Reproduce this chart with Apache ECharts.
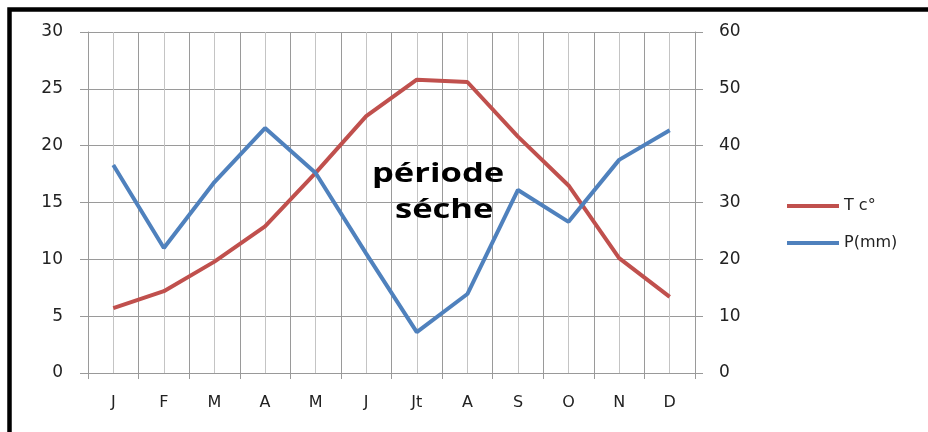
<!DOCTYPE html>
<html><head><meta charset="utf-8">
<script src="https://cdn.jsdelivr.net/npm/echarts@6/dist/echarts.min.js"></script>
<style>html,body{margin:0;padding:0;background:#fff}#c{width:928px;height:432px}</style>
</head><body><div id="c"></div>
<script>
const months = ['J','F','M','A','M','J','Jt','A','S','O','N','D'];
const temperature = [5.7, 7.2, 9.8, 12.9, 17.6, 22.6, 25.8, 25.6, 20.8, 16.5, 10.1, 6.7];
const precipitation = [36.6, 22.0, 33.6, 43.1, 35.2, 21.0, 7.2, 13.9, 32.2, 26.6, 37.5, 42.7];
const leftTicks = {min: 0, max: 30, interval: 5};
const rightTicks = {min: 0, max: 60, interval: 10};
const seriesNames = ['T c\u00B0', 'P(mm)'];

const font = 'DejaVu Sans';
const chart = echarts.init(document.getElementById('c'), null, {renderer: 'canvas'});
chart.setOption({
  backgroundColor: '#fff',
  animation: false,
  grid: {left: 88, right: 233, top: 32, bottom: 59},
  legend: {
    orient: 'vertical', left: 787, top: 198, padding: 0, itemWidth: 52, itemHeight: 4, itemGap: 21,
    icon: 'rect',
    textStyle: {fontFamily: font, fontSize: 16, color: '#222'},
    data: seriesNames
  },
  xAxis: [
    {type: 'category', data: months, boundaryGap: true,
      axisLine: {lineStyle: {color: '#999', width: 1}},
      axisTick: {show: true, length: 6, interval: 0, lineStyle: {color: '#999'}},
      axisLabel: {margin: 22, interval: 0, fontFamily: font, fontSize: 16, color: '#222'},
      splitLine: {show: true, interval: 0, lineStyle: {color: '#9a9a9a', width: 1}}, z: 3},
    {type: 'value', min: 0, max: 24, interval: 1, position: 'bottom',
      axisLine: {show: false}, axisTick: {show: false}, axisLabel: {show: false},
      splitLine: {show: true, lineStyle: {color: '#c4c4c4', width: 1}}}
  ],
  yAxis: [
    {type: 'value', min: leftTicks.min, max: leftTicks.max, interval: leftTicks.interval,
      axisLine: {show: true, lineStyle: {color: '#999'}},
      axisTick: {show: true, length: 8, lineStyle: {color: '#999'}},
      axisLabel: {margin: 25, fontFamily: font, fontSize: 17, color: '#222'},
      splitLine: {show: true, lineStyle: {color: '#9a9a9a', width: 1}}},
    {type: 'value', min: rightTicks.min, max: rightTicks.max, interval: rightTicks.interval,
      axisLine: {show: true, lineStyle: {color: '#999'}},
      axisTick: {show: true, length: 8, lineStyle: {color: '#999'}},
      axisLabel: {margin: 24, fontFamily: font, fontSize: 17, color: '#222'},
      splitLine: {show: false}}
  ],
  series: [
    {name: seriesNames[0], type: 'line', xAxisIndex: 0, yAxisIndex: 0, data: temperature,
      symbol: 'none', lineStyle: {color: '#C0504D', width: 4}, itemStyle: {color: '#C0504D'}, z: 5},
    {name: seriesNames[1], type: 'line', xAxisIndex: 0, yAxisIndex: 1, data: precipitation,
      symbol: 'none', lineStyle: {color: '#4F81BD', width: 4}, itemStyle: {color: '#4F81BD'}, z: 5}
  ],
  graphic: [
    {type: 'rect', shape: {x: 9.5, y: 9.5, width: 1000, height: 1000}, style: {fill: 'none', stroke: '#000', lineWidth: 4.5}, z: 10},
    {type: 'text', x: 372, y: 161, scaleX: 1.28, originX: 0, style: {text: 'période', fontFamily: 'Open Sans', fontWeight: 'bold', fontSize: 27, fill: '#000', verticalAlign: 'top'}, z: 10},
    {type: 'text', x: 395, y: 197, scaleX: 1.28, originX: 0, style: {text: 'séche', fontFamily: 'Open Sans', fontWeight: 'bold', fontSize: 27, fill: '#000', verticalAlign: 'top'}, z: 10}
  ]
});
</script></body></html>
